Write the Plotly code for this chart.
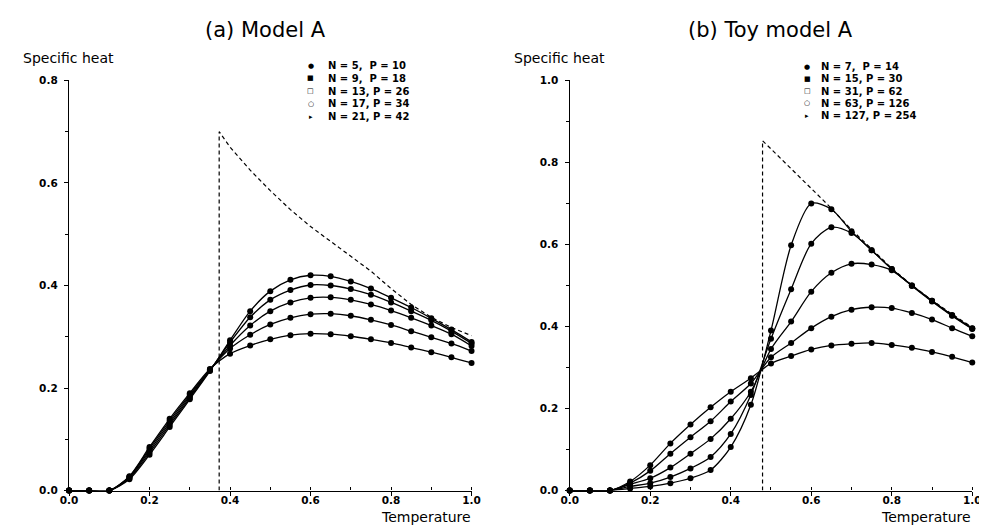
import plotly.graph_objects as go

# ---------------- data ----------------
T = [0.0, 0.05, 0.1, 0.15, 0.2, 0.25, 0.3, 0.35, 0.4, 0.45, 0.5,
     0.55, 0.6, 0.65, 0.7, 0.75, 0.8, 0.85, 0.9, 0.95, 1.0]

# (a) Model A
a_labels = ["N = 5,\u00a0 P = 10", "N = 9,\u00a0 P = 18", "N = 13, P = 26",
            "N = 17, P = 34", "N = 21, P = 42"]
a_N5 = [0, 0, 0, 0.028, 0.085, 0.140, 0.190, 0.237, 0.267, 0.283, 0.295,
        0.303, 0.306, 0.305, 0.301, 0.295, 0.288, 0.279, 0.270, 0.260, 0.249]
a_N9 = [0, 0, 0, 0.027, 0.082, 0.136, 0.187, 0.236, 0.277, 0.304, 0.324,
        0.337, 0.344, 0.345, 0.341, 0.333, 0.323, 0.311, 0.299, 0.287, 0.272]
a_N13 = [0, 0, 0, 0.026, 0.078, 0.132, 0.184, 0.235, 0.283, 0.322, 0.350,
         0.367, 0.376, 0.377, 0.372, 0.363, 0.351, 0.337, 0.322, 0.305, 0.282]
a_N17 = [0, 0, 0, 0.024, 0.074, 0.128, 0.181, 0.234, 0.289, 0.338, 0.372,
         0.391, 0.401, 0.400, 0.393, 0.382, 0.367, 0.350, 0.332, 0.311, 0.287]
a_N21 = [0, 0, 0, 0.022, 0.070, 0.124, 0.178, 0.233, 0.293, 0.350, 0.389,
         0.411, 0.420, 0.418, 0.408, 0.394, 0.376, 0.357, 0.336, 0.314, 0.290]
a_lim_T = [0.373, 0.373, 0.4, 0.45, 0.5, 0.55, 0.6, 0.65, 0.7, 0.75, 0.8, 0.85, 0.9, 0.95, 1.0]
a_lim_C = [0.0, 0.700, 0.670, 0.625, 0.585, 0.548, 0.515, 0.486, 0.458, 0.428,
           0.394, 0.363, 0.338, 0.318, 0.302]

# (b) Toy model A
b_labels = ["N = 7,\u00a0 P = 14", "N = 15, P = 30", "N = 31, P = 62",
            "N = 63, P = 126", "N = 127, P = 254"]
b_N7 = [0, 0, 0, 0.022, 0.062, 0.115, 0.161, 0.203, 0.241, 0.274, 0.310,
        0.328, 0.344, 0.354, 0.358, 0.360, 0.355, 0.348, 0.338, 0.326, 0.312]
b_N15 = [0, 0, 0, 0.018, 0.048, 0.090, 0.130, 0.169, 0.217, 0.261, 0.325,
         0.360, 0.396, 0.424, 0.441, 0.447, 0.445, 0.433, 0.417, 0.396, 0.376]
b_N31 = [0, 0, 0, 0.015, 0.030, 0.056, 0.090, 0.126, 0.175, 0.241, 0.345,
         0.412, 0.485, 0.531, 0.553, 0.551, 0.537, 0.499, 0.461, 0.426, 0.394]
b_N63 = [0, 0, 0, 0.010, 0.018, 0.033, 0.054, 0.082, 0.138, 0.233, 0.370,
         0.491, 0.602, 0.642, 0.628, 0.586, 0.540, 0.500, 0.463, 0.427, 0.395]
b_N127 = [0, 0, 0, 0.005, 0.010, 0.018, 0.030, 0.050, 0.106, 0.209, 0.390,
          0.598, 0.700, 0.686, 0.632, 0.586, 0.540, 0.500, 0.463, 0.428, 0.396]
b_lim_T = [0.479, 0.479, 0.5, 0.55, 0.6, 0.64, 0.7, 0.75, 0.8, 0.85, 0.9, 0.95, 1.0]
b_lim_C = [0.0, 0.853, 0.833, 0.784, 0.736, 0.698, 0.636, 0.588, 0.542, 0.501,
           0.464, 0.430, 0.398]

x_ticks = [0.0, 0.2, 0.4, 0.6, 0.8, 1.0]
legend_symbols = ["\u25cf", "\u25a0", "\u25a1", "\u25cb", "\u25b8"]

# ---------------- figure ----------------
W, H = 987, 525
FONT = "DejaVu Sans"
fig = go.Figure()

def add_series(series, xa, ya):
    for s in series:
        fig.add_trace(go.Scatter(
            x=T, y=s, xaxis=xa, yaxis=ya, mode="lines+markers",
            line=dict(color="black", width=1.3, shape="spline", smoothing=0.8),
            marker=dict(color="black", size=6, symbol="circle"),
            cliponaxis=False, showlegend=False, hoverinfo="skip"))

add_series([a_N5, a_N9, a_N13, a_N17, a_N21], "x", "y")
fig.add_trace(go.Scatter(x=a_lim_T, y=a_lim_C, xaxis="x", yaxis="y", mode="lines",
                         line=dict(color="black", width=1.2, dash="4px,3px"),
                         showlegend=False, hoverinfo="skip"))
add_series([b_N7, b_N15, b_N31, b_N63, b_N127], "x2", "y2")
fig.add_trace(go.Scatter(x=b_lim_T, y=b_lim_C, xaxis="x2", yaxis="y2", mode="lines",
                         line=dict(color="black", width=1.2, dash="4px,3px"),
                         showlegend=False, hoverinfo="skip"))

def px2x(px):
    return px / W

def px2y(py):
    return 1 - py / H

ydom = [px2y(487.7), px2y(68)]
tickfont = dict(family=FONT, size=10.5, color="black", weight="bold")

xaxis_common = dict(
    range=[0, 1.0], tickvals=x_ticks, tickformat=".1f",
    showline=True, linecolor="black", linewidth=1.4, showgrid=False, zeroline=False,
    ticks="outside", ticklen=4, tickwidth=1.2, tickcolor="black",
    minor=dict(dtick=0.1, ticks="inside", ticklen=3, tickwidth=1, tickcolor="black"),
    tickfont=tickfont, ticklabelstandoff=-4,
)
yaxis_common = dict(
    showline=True, linecolor="black", linewidth=1.4, showgrid=False, zeroline=False,
    ticks="outside", ticklen=4, tickwidth=1.2, tickcolor="black", tickformat=".1f",
    minor=dict(dtick=0.1, ticks="outside", ticklen=3, tickwidth=1, tickcolor="black"),
    tickfont=tickfont, ticklabelstandoff=4,
)

fig.update_layout(
    width=W, height=H, margin=dict(l=0, r=0, t=0, b=0, pad=0),
    paper_bgcolor="white", plot_bgcolor="white", showlegend=False,
    xaxis=dict(domain=[px2x(53), px2x(463)], anchor="y", **xaxis_common),
    yaxis=dict(domain=ydom, anchor="x", range=[0, 0.8], dtick=0.2, **yaxis_common),
    xaxis2=dict(domain=[px2x(563), px2x(973)], anchor="y2", **xaxis_common),
    yaxis2=dict(domain=ydom, anchor="x2", range=[0, 1.0], dtick=0.2, **yaxis_common),
)

ann = []
def text(x, y, s, size, xanchor="left", weight="normal"):
    ann.append(dict(x=px2x(x), y=px2y(y), xref="paper", yref="paper", text=s,
                    showarrow=False, xanchor=xanchor, yanchor="middle",
                    font=dict(family=FONT, size=size, color="black", weight=weight)))

text(253, 16, "(a) Model A", 21, "center")
text(767, 16, "(b) Toy model A", 21, "center")
text(4, 45, "Specific heat", 14, "left")
text(504, 45, "Specific heat", 14, "left")
text(464, 515, "Temperature", 14, "right")
text(974, 515, "Temperature", 14, "right")

a_rows = [53, 66, 79, 92, 105]
for sym, lab, yy in zip(legend_symbols, a_labels, a_rows):
    text(299, yy, sym, 7, "center")
    text(315, yy, lab, 10, "left", "bold")
b_rows = [54, 66.5, 79, 91.5, 104]
for sym, lab, yy in zip(legend_symbols, b_labels, b_rows):
    text(805, yy, sym, 7, "center")
    text(817, yy, lab, 10, "left", "bold")

fig.update_layout(annotations=ann)
fig.write_html("out.html")
